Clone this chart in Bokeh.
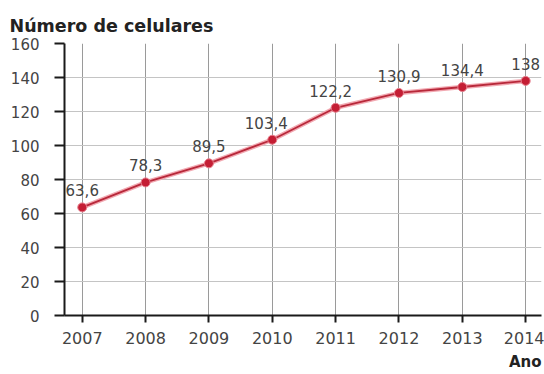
from bokeh.plotting import figure
from bokeh.models import ColumnDataSource, Range1d, FixedTicker, Title
from bokeh.core.properties import value
from bokeh.embed import file_html
from bokeh.resources import INLINE

years = [2007, 2008, 2009, 2010, 2011, 2012, 2013, 2014]
phones = [63.6, 78.3, 89.5, 103.4, 122.2, 130.9, 134.4, 138]
labels = ["63,6", "78,3", "89,5", "103,4", "122,2", "130,9", "134,4", "138"]
label_shift = [0, 0, 0, -6, -5, 0, 0, 0]
y_ticks = [0, 20, 40, 60, 80, 100, 120, 140, 160]
title_text = "Número de celulares"
x_title = "Ano"

FONT = "DejaVu Sans"

src = ColumnDataSource(dict(x=years, y=phones, lab=labels, dx=label_shift))

p = figure(width=544, height=374, output_backend="svg", toolbar_location=None,
           x_range=Range1d(2006.72, 2014.25), y_range=Range1d(0, 160),
           min_border_left=64, min_border_right=3, min_border_top=43, min_border_bottom=59)
p.outline_line_color = None
p.background_fill_color = "white"
p.border_fill_color = "white"

p.xaxis.ticker = FixedTicker(ticks=years)
p.yaxis.ticker = FixedTicker(ticks=y_ticks)
p.xaxis.minor_tick_line_color = None
p.yaxis.minor_tick_line_color = None

for ax in (p.xaxis, p.yaxis):
    ax.axis_line_color = "#1a1a1a"
    ax.axis_line_width = 2
    ax.major_tick_line_color = "#1a1a1a"
    ax.major_tick_line_width = 2
    ax.major_tick_in = 0
    ax.major_label_text_font = FONT
    ax.major_label_text_color = "#444444"

p.yaxis.major_tick_out = 10
p.yaxis.major_label_standoff = 15
p.yaxis.major_label_text_font_size = "15px"
p.xaxis.major_tick_out = 7
p.xaxis.major_label_standoff = 9
p.xaxis.major_label_text_font_size = "16px"

p.xgrid.grid_line_color = "#9a9a9a"
p.xgrid.grid_line_width = 1
p.ygrid.grid_line_color = "#c4c4c4"
p.ygrid.grid_line_width = 1

p.line("x", "y", source=src, line_color="#f2a9b2", line_width=4.5)
p.line("x", "y", source=src, line_color="#b8283a", line_width=1.8)
p.scatter("x", "y", source=src, size=9, fill_color="#c41e34", line_color="#e8808e", line_width=1)

p.text("x", "y", text="lab", source=src, x_offset="dx", y_offset=-17,
       text_align="center", text_baseline="alphabetic",
       text_font=value(FONT), text_font_size="15px", text_color="#444444")

p.add_layout(Title(text=title_text, align="left", offset=-55, standoff=16,
                   text_font=FONT, text_font_size="17.5px", text_font_style="bold",
                   text_color="#222222"), "above")
p.add_layout(Title(text=x_title, align="right", offset=0, standoff=8,
                   text_font=FONT, text_font_size="15px", text_font_style="bold",
                   text_color="#222222"), "below")

open("out.html", "w").write(file_html(p, INLINE))
